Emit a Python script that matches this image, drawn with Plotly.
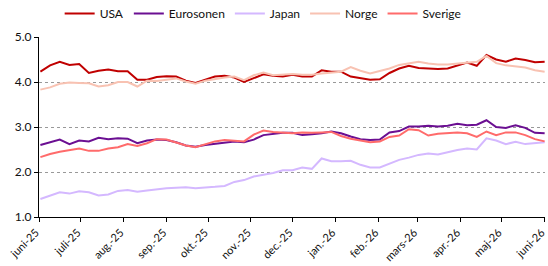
import plotly.graph_objects as go
import pandas as pd

dates = pd.date_range("2025-06-02", periods=53, freq="7D")

usa = [4.23, 4.37, 4.45, 4.38, 4.40, 4.20, 4.25, 4.28, 4.24, 4.24,
       4.05, 4.05, 4.11, 4.13, 4.12, 4.03, 3.98, 4.05, 4.12, 4.14,
       4.10, 4.00, 4.08, 4.17, 4.14, 4.12, 4.16, 4.12, 4.12, 4.26,
       4.23, 4.23, 4.12, 4.08, 4.05, 4.06, 4.20, 4.30, 4.36, 4.31,
       4.30, 4.29, 4.30, 4.37, 4.43, 4.36, 4.60, 4.50, 4.45, 4.52,
       4.49, 4.44, 4.45]
eurosonen = [2.60, 2.66, 2.72, 2.62, 2.70, 2.68, 2.76, 2.73, 2.75, 2.74,
             2.64, 2.70, 2.72, 2.71, 2.66, 2.59, 2.56, 2.60, 2.63, 2.66,
             2.68, 2.66, 2.72, 2.82, 2.85, 2.87, 2.87, 2.82, 2.84, 2.86,
             2.90, 2.86, 2.79, 2.73, 2.71, 2.72, 2.88, 2.91, 3.01, 3.01,
             3.03, 3.01, 3.03, 3.07, 3.04, 3.05, 3.15, 3.00, 2.98, 3.04,
             2.98, 2.87, 2.86]
japan = [1.40, 1.47, 1.55, 1.52, 1.57, 1.55, 1.48, 1.50, 1.58, 1.60,
         1.56, 1.59, 1.62, 1.64, 1.65, 1.66, 1.64, 1.65, 1.67, 1.69,
         1.78, 1.82, 1.90, 1.94, 1.98, 2.04, 2.04, 2.10, 2.07, 2.30,
         2.24, 2.24, 2.25, 2.16, 2.10, 2.10, 2.18, 2.27, 2.32, 2.38,
         2.41, 2.39, 2.44, 2.49, 2.52, 2.50, 2.75, 2.70, 2.62, 2.67,
         2.62, 2.64, 2.66]
norge = [3.83, 3.88, 3.96, 3.99, 3.98, 3.97, 3.90, 3.93, 4.00, 4.00,
         3.90, 4.03, 4.02, 4.05, 4.08, 4.01, 3.96, 4.03, 4.07, 4.10,
         4.12, 4.04, 4.15, 4.21, 4.15, 4.16, 4.18, 4.16, 4.16, 4.19,
         4.21, 4.23, 4.33, 4.25, 4.19, 4.25, 4.30, 4.38, 4.41, 4.45,
         4.41, 4.39, 4.39, 4.41, 4.44, 4.45, 4.58, 4.42, 4.37, 4.35,
         4.32, 4.26, 4.23]
sverige = [2.33, 2.40, 2.45, 2.48, 2.52, 2.47, 2.47, 2.52, 2.55, 2.62,
           2.58, 2.64, 2.73, 2.72, 2.66, 2.59, 2.55, 2.62, 2.68, 2.71,
           2.69, 2.68, 2.83, 2.92, 2.89, 2.88, 2.86, 2.88, 2.87, 2.88,
           2.89, 2.80, 2.74, 2.70, 2.66, 2.68, 2.78, 2.81, 2.95, 2.93,
           2.81, 2.85, 2.87, 2.88, 2.86, 2.78, 2.90, 2.82, 2.88, 2.88,
           2.82, 2.73, 2.68]

tick_dates = pd.date_range("2025-06-01", periods=13, freq="MS")
tick_labels = ["juni-25", "juli-25", "aug.-25", "sep.-25", "okt.-25", "nov.-25",
               "dec.-25", "jan.-26", "feb.-26", "mars-26", "apr.-26", "maj-26", "juni-26"]

series = [("USA", usa, "#C00000"),
          ("Eurosonen", eurosonen, "#6B0F92"),
          ("Japan", japan, "#D4B8FF"),
          ("Norge", norge, "#F8C2B2"),
          ("Sverige", sverige, "#FF6B6B")]

fig = go.Figure()
for name, vals, col in series:
    fig.add_trace(go.Scatter(x=dates, y=vals, name=name, mode="lines",
                             line=dict(color=col, width=2)))

font = dict(family="Lato, 'Open Sans', sans-serif", size=12, color="#111111")
fig.update_layout(
    width=548, height=266,
    margin=dict(l=39, r=3, t=37, b=49, autoexpand=False),
    paper_bgcolor="white", plot_bgcolor="white",
    font=font,
    showlegend=True,
    legend=dict(orientation="h", x=0.443, xanchor="center", y=1.13, yanchor="middle",
                font=dict(size=12), itemwidth=30, tracegroupgap=0,
                bgcolor="rgba(0,0,0,0)"),
)
fig.update_xaxes(
    range=[tick_dates[0], tick_dates[-1] + pd.Timedelta(hours=6)],
    tickvals=tick_dates, ticktext=tick_labels, tickangle=-45,
    showgrid=False, showline=True, linecolor="#000000", linewidth=1,
    ticks="outside", ticklen=4, tickcolor="#000000",
    tickfont=dict(size=11), zeroline=False, automargin=False,
    ticklabeloverflow="allow", ticklabelshift=-3,
)
fig.update_yaxes(
    range=[1.0, 5.0], tickvals=[1, 2, 3, 4, 5], tickformat=".1f",
    showgrid=True, gridcolor="#999999", griddash="dot", gridwidth=1,
    showline=True, linecolor="#000000", linewidth=1,
    ticks="outside", ticklen=4, tickcolor="#000000", zeroline=False,
    tickfont=dict(size=12), automargin=False,
)
fig.write_html("out.html", config={"displayModeBar": False},
               post_script="document.body.style.margin='0';document.body.style.overflow='hidden';")
